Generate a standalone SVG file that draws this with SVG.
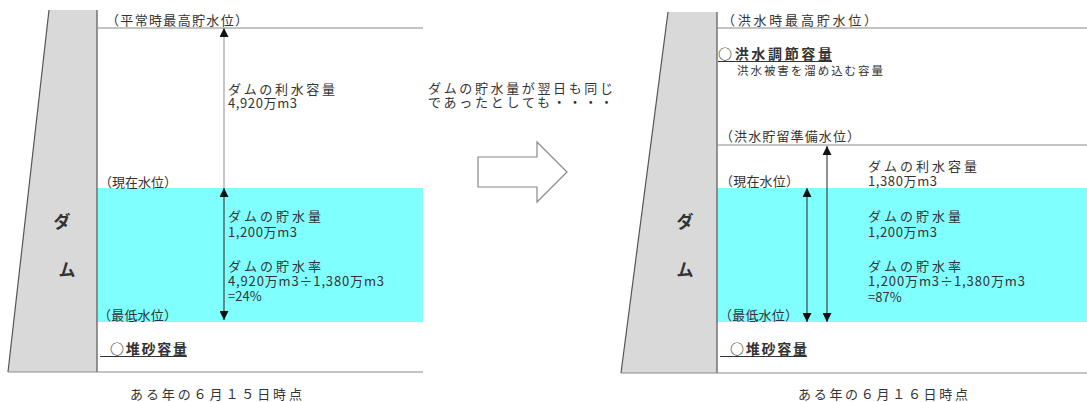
<svg xmlns="http://www.w3.org/2000/svg" width="1087" height="402" viewBox="0 0 1087 402">
<style>
.t{font-family:"Noto Sans CJK JP","Noto Sans",sans-serif;font-size:13px;fill:#333}
.s{font-size:11.5px}
.b{font-weight:bold;font-size:14px}
.dam{font-family:"Noto Sans CJK JP",sans-serif;font-size:17px;font-weight:bold;fill:#333;text-anchor:middle}
.ln{stroke:#8a8a8a;stroke-width:1.2;fill:none}
.edge{stroke:#555;stroke-width:1.2;fill:none}
.damfill{fill:#d9d9d9}
.water{fill:#80ffff}
.ar{stroke:#333;stroke-width:1.1;fill:none}
.arl{stroke:#999;stroke-width:1.1;fill:none}
.ul{stroke:#333;stroke-width:1.2}
</style>
<defs>
<marker id="ah" viewBox="0 0 10 10" refX="10" refY="5" markerWidth="9" markerHeight="9" markerUnits="userSpaceOnUse" orient="auto-start-reverse">
<path d="M0,0 L10,5 L0,10 z" fill="#111"/>
</marker>
</defs>
<rect width="1087" height="402" fill="#fff"/>

<g id="left-panel">
<rect class="water" x="97" y="188" width="326" height="134"/>
<polygon class="damfill" points="49,10 97,10 97,372 8,372"/>
<line class="edge" x1="49" y1="10" x2="8" y2="372"/>
<line class="edge" x1="97" y1="10" x2="97" y2="372"/>
<line class="ln" x1="97" y1="28" x2="423" y2="28"/>
<line class="ln" x1="8" y1="372" x2="423" y2="372"/>
<text class="dam" x="62" y="228">ダ</text>
<text class="dam" x="67" y="276">ム</text>
</g>

<g id="left-labels">
<text class="t" x="106" y="25" textLength="142" lengthAdjust="spacing">（平常時最高貯水位）</text>
<text class="t" x="228" y="94" textLength="107" lengthAdjust="spacing">ダムの利水容量</text>
<text class="t" x="228" y="108" textLength="69" lengthAdjust="spacing">4,920万m3</text>
<text class="t" x="99" y="187" textLength="78" lengthAdjust="spacing">（現在水位）</text>
<text class="t" x="228" y="221" textLength="93" lengthAdjust="spacing">ダムの貯水量</text>
<text class="t" x="228" y="237" textLength="69" lengthAdjust="spacing">1,200万m3</text>
<text class="t" x="228" y="271" textLength="93" lengthAdjust="spacing">ダムの貯水率</text>
<text class="t" x="228" y="286" textLength="156" lengthAdjust="spacing">4,920万m3÷1,380万m3</text>
<text class="t" x="228" y="301">=24%</text>
<text class="t" x="98" y="320" textLength="79" lengthAdjust="spacing">（最低水位）</text>
<text class="t b" x="110" y="354" textLength="77" lengthAdjust="spacing">○堆砂容量</text>
<line class="ul" x1="100" y1="356.5" x2="187" y2="356.5"/>
<text class="t" x="130" y="399" textLength="172" lengthAdjust="spacing">ある年の６月１５日時点</text>
</g>

<g id="transition">
<text class="t" x="428" y="93" textLength="185" lengthAdjust="spacing">ダムの貯水量が翌日も同じ</text>
<text class="t" x="428" y="107" textLength="185" lengthAdjust="spacing">であったとしても・・・・</text>
<polygon points="478,157 537,157 537,142 567,172 537,202 537,187 478,187" fill="#fff" stroke="#888" stroke-width="1.2"/>
</g>

<g id="right-panel">
<rect class="water" x="717" y="188" width="370" height="134"/>
<polygon class="damfill" points="668,12 717,12 717,373 621,373"/>
<line class="edge" x1="668" y1="12" x2="621" y2="373"/>
<line class="edge" x1="717" y1="12" x2="717" y2="373"/>
<line class="ln" x1="717" y1="28" x2="1087" y2="28"/>
<line class="ln" x1="717" y1="145" x2="1087" y2="145"/>
<line class="ln" x1="621" y1="373" x2="1087" y2="373"/>
<text class="dam" x="685" y="228">ダ</text>
<text class="dam" x="685" y="276">ム</text>
</g>

<g id="right-labels">
<text class="t" x="722" y="25" textLength="155" lengthAdjust="spacing">（洪水時最高貯水位）</text>
<text class="t b" x="718" y="59" textLength="114" lengthAdjust="spacing">○洪水調節容量</text>
<line class="ul" x1="718" y1="61.5" x2="832" y2="61.5"/>
<text class="t s" x="737" y="75" textLength="146" lengthAdjust="spacing">洪水被害を溜め込む容量</text>
<text class="t" x="720" y="141" textLength="140" lengthAdjust="spacing">（洪水貯留準備水位）</text>
<text class="t" x="868" y="171" textLength="109" lengthAdjust="spacing">ダムの利水容量</text>
<text class="t" x="868" y="186" textLength="69" lengthAdjust="spacing">1,380万m3</text>
<text class="t" x="720" y="186" textLength="79" lengthAdjust="spacing">（現在水位）</text>
<text class="t" x="868" y="221" textLength="93" lengthAdjust="spacing">ダムの貯水量</text>
<text class="t" x="868" y="237" textLength="69" lengthAdjust="spacing">1,200万m3</text>
<text class="t" x="868" y="271" textLength="93" lengthAdjust="spacing">ダムの貯水率</text>
<text class="t" x="868" y="286" textLength="157" lengthAdjust="spacing">1,200万m3÷1,380万m3</text>
<text class="t" x="868" y="302">=87%</text>
<text class="t" x="719" y="320" textLength="79" lengthAdjust="spacing">（最低水位）</text>
<text class="t b" x="730" y="354" textLength="77" lengthAdjust="spacing">○堆砂容量</text>
<line class="ul" x1="720" y1="356.5" x2="807" y2="356.5"/>
<text class="t" x="798" y="399" textLength="170" lengthAdjust="spacing">ある年の６月１６日時点</text>
</g>

<g id="connectors">
<line class="arl" x1="224" y1="188" x2="224" y2="28" marker-end="url(#ah)"/>
<line class="ar" x1="224" y1="188" x2="224" y2="320" marker-start="url(#ah)" marker-end="url(#ah)"/>
<line class="ar" x1="827" y1="146" x2="827" y2="322" marker-start="url(#ah)" marker-end="url(#ah)"/>
<line class="ar" x1="807" y1="188" x2="807" y2="322" marker-start="url(#ah)" marker-end="url(#ah)"/>
</g>
</svg>
